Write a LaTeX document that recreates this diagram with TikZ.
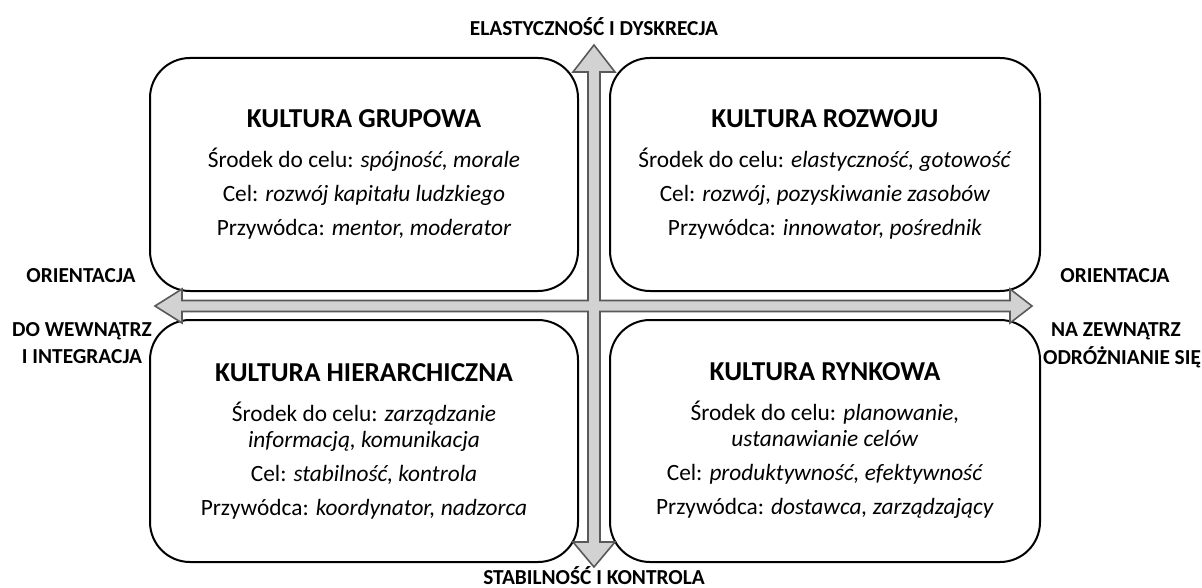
\documentclass[tikz,border=0pt]{standalone}
\usepackage{fontspec}
\setmainfont{Carlito}
\begin{document}
\begin{tikzpicture}[x=0.75pt,y=-0.75pt,
  quad/.style={draw=black,line width=1.5pt,fill=white,rounded corners=30pt,
    align=center,inner sep=0pt,font=\fontsize{17.5}{19.5}\selectfont},
  axislabel/.style={font=\fontsize{16}{18}\selectfont\bfseries,inner sep=0pt},
  axisarrow/.style={fill=gray!35,draw=black!65,line width=1.2pt,line join=miter}]
\useasboundingbox (0,0) rectangle (1202,588);
\newcommand{\qtitle}[1]{{\fontsize{20.5}{19.5}\selectfont\bfseries #1}}
% quadrants
\node[quad,minimum width=321pt,minimum height=174.75pt] (tl) at (364,174.5)
 {\qtitle{KULTURA GRUPOWA}\\[10.5pt]
  Środek do celu: \textit{spójność, morale}\\[6pt]
  Cel: \textit{rozwój kapitału ludzkiego}\\[6pt]
  Przywódca: \textit{mentor, moderator}};
\node[quad,minimum width=322.5pt,minimum height=174.75pt] (tr) at (825,174.5)
 {\qtitle{KULTURA ROZWOJU}\\[10.5pt]
  Środek do celu: \textit{elastyczność, gotowość}\\[6pt]
  Cel: \textit{rozwój, pozyskiwanie zasobów}\\[6pt]
  Przywódca: \textit{innowator, pośrednik}};
\node[quad,minimum width=321pt,minimum height=181.5pt] (bl) at (364,441)
 {\qtitle{KULTURA HIERARCHICZNA}\\[10.5pt]
  Środek do celu: \textit{zarządzanie}\\
  \textit{informacją, komunikacja}\\[6pt]
  Cel: \textit{stabilność, kontrola}\\[6pt]
  Przywódca: \textit{koordynator, nadzorca}};
\node[quad,minimum width=322.5pt,minimum height=181.5pt] (br) at (825,441)
 {\qtitle{KULTURA RYNKOWA}\\[10.5pt]
  Środek do celu: \textit{planowanie,}\\
  \textit{ustanawianie celów}\\[6pt]
  Cel: \textit{produktywność, efektywność}\\[6pt]
  Przywódca: \textit{dostawca, zarządzający}};
% axes (union outline of both double arrows)
\draw[axisarrow] (594,45) -- (615,72) -- (600,72) -- (600,300.5) -- (1010,300.5)
  -- (1010,289) -- (1032,306) -- (1010,323) -- (1010,311.5) -- (600,311.5)
  -- (600,542) -- (615,542) -- (594,567) -- (573,542) -- (588,542) -- (588,311.5)
  -- (182,311.5) -- (182,323) -- (155,306) -- (182,289) -- (182,300.5)
  -- (588,300.5) -- (588,72) -- (573,72) -- cycle;
% axis labels
\node[axislabel] (top) at (594,27) {ELASTYCZNOŚĆ I DYSKRECJA};
\node[axislabel] (bot) at (594,576) {STABILNOŚĆ I KONTROLA};
\node[axislabel] (l1) at (81,276) {ORIENTACJA};
\node[axislabel] (l2) at (82,331) {DO WEWNĄTRZ};
\node[axislabel] (l3) at (82,357) {I INTEGRACJA};
\node[axislabel] (r1) at (1115,276) {ORIENTACJA};
\node[axislabel] (r2) at (1116,331) {NA ZEWNĄTRZ};
\node[axislabel] (r3) at (1122,357) {ODRÓŻNIANIE SIĘ};
\end{tikzpicture}
\end{document}
